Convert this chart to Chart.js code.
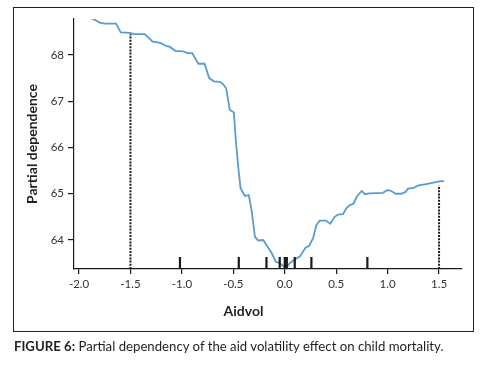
<!DOCTYPE html>
<html>
<head>
<meta charset="utf-8">
<script src="https://cdn.jsdelivr.net/npm/chart.js@4.4.1/dist/chart.umd.min.js"></script>
<style>
  body { margin: 0; background: #fff; }
  #wrap { position: relative; width: 480px; height: 366px; }
  #box { position: absolute; left: 13px; top: 7px; width: 459px; height: 323px; border: 1px solid #222; }
  #chart { position: absolute; left: 0; top: 0; }
  #xtitle { position: absolute; left: 13px; width: 461px; top: 302px; text-align: center;
            font: bold 14px Lato, sans-serif; color: #231f20; }
  #caption { position: absolute; left: 14px; top: 338px; font: 13.2px Lato, sans-serif; color: #231f20; }
</style>
</head>
<body>
<div id="wrap">
  <div id="box"></div>
  <canvas id="chart" width="480" height="366"></canvas>
  <div id="xtitle">Aidvol</div>
  <div id="caption"><b>FIGURE 6:</b> Partial dependency of the aid volatility effect on child mortality.</div>
</div>
<script>
// Partial dependence curve (Aidvol -> partial dependence)
const aidvol = [-1.877, -1.845, -1.80, -1.75, -1.64, -1.595, -1.50, -1.47, -1.36, -1.285, -1.21, -1.15, -1.12,
  -1.065, -0.99, -0.945, -0.90, -0.84, -0.78, -0.735, -0.69, -0.63, -0.60, -0.57, -0.534, -0.495, -0.476,
  -0.453, -0.43, -0.388, -0.35, -0.323, -0.29, -0.259, -0.21, -0.178, -0.13, -0.087, -0.049, -0.016, 0.01,
  0.049, 0.097, 0.146, 0.204, 0.236, 0.275, 0.307, 0.34, 0.40, 0.443, 0.485, 0.518, 0.566, 0.60, 0.63,
  0.67, 0.70, 0.748, 0.78, 0.825, 0.954, 1.00, 1.036, 1.078, 1.13, 1.175, 1.197, 1.246, 1.30, 1.376, 1.49, 1.547];
const dependence = [68.79, 68.76, 68.70, 68.68, 68.68, 68.49, 68.48, 68.45, 68.45, 68.29, 68.26, 68.19, 68.18,
  68.09, 68.08, 68.04, 68.04, 67.81, 67.81, 67.50, 67.43, 67.42, 67.37, 67.28, 66.81, 66.76, 66.16,
  65.59, 65.12, 64.95, 64.97, 64.65, 64.07, 63.99, 64.00, 63.89, 63.73, 63.53, 63.50, 63.44, 63.39,
  63.50, 63.58, 63.64, 63.84, 63.87, 64.04, 64.32, 64.42, 64.42, 64.35, 64.50, 64.55, 64.56, 64.69, 64.75,
  64.79, 64.94, 65.06, 64.99, 65.01, 65.02, 65.08, 65.06, 65.00, 65.00, 65.04, 65.11, 65.12, 65.18, 65.21, 65.26, 65.28];

// Rug marks (deciles of Aidvol)
const rugX = [-1.019, -0.447, -0.178, -0.049, 0.0, 0.02, 0.097, 0.259, 0.803];
// Dotted reference lines at the 5th / 95th percentiles
const refX = [-1.5, 1.5];
const refTop = [68.45, 65.18];

const xTicks = [-2.0, -1.5, -1.0, -0.5, 0.0, 0.5, 1.0, 1.5];
const yTicks = [64, 65, 66, 67, 68];

const xMin = -2.049, xMax = 1.723;
const yMin = 63.373, yMax = 68.778;
const rugLen = 0.26;

const curve = aidvol.map((x, i) => ({ x: x, y: dependence[i] }));

const rugPts = [];
rugX.forEach(x => {
    rugPts.push({ x: x, y: yMin }, { x: x, y: yMin + rugLen }, { x: x, y: null });
});

const refPts = [];
refX.forEach((x, i) => {
    refPts.push({ x: x, y: yMin }, { x: x, y: refTop[i] }, { x: x, y: null });
});

const tickFont = { family: 'Lato, sans-serif', size: 11.5 };

new Chart(document.getElementById('chart'), {
    type: 'line',
    data: {
        datasets: [
            {
                data: refPts,
                borderColor: '#1a1a1a',
                borderWidth: 2,
                borderDash: [2, 1.2],
                pointRadius: 0,
                spanGaps: false
            },
            {
                data: rugPts,
                borderColor: '#1a1a1a',
                borderWidth: 2.2,
                pointRadius: 0,
                spanGaps: false
            },
            {
                data: curve,
                borderColor: '#5a9bd0',
                borderWidth: 1.8,
                pointRadius: 0,
                tension: 0
            }
        ]
    },
    options: {
        responsive: false,
        animation: false,
        layout: { padding: { left: 24, top: 19, right: 18, bottom: 40 } },
        plugins: { legend: { display: false }, tooltip: { enabled: false } },
        scales: {
            x: {
                type: 'linear',
                min: xMin,
                max: xMax,
                afterBuildTicks: s => { s.ticks = xTicks.map(v => ({ value: v })); },
                afterFit: s => { s.height = 57; },
                ticks: {
                    color: '#333',
                    font: tickFont,
                    padding: 3,
                    maxRotation: 0,
                    callback: v => v.toFixed(1)
                },
                grid: { drawOnChartArea: false, drawTicks: true, tickLength: 5, color: '#1a1a1a', lineWidth: 1.2 },
                border: { display: true, color: '#1a1a1a', width: 1.2 }
            },
            y: {
                type: 'linear',
                min: yMin,
                max: yMax,
                afterBuildTicks: s => { s.ticks = yTicks.map(v => ({ value: v })); },
                afterFit: s => { s.width = 50; },
                ticks: {
                    color: '#333',
                    font: tickFont,
                    padding: 4
                },
                grid: { drawOnChartArea: false, drawTicks: true, tickLength: 6, color: '#1a1a1a', lineWidth: 1.2 },
                border: { display: true, color: '#1a1a1a', width: 1.2 },
                title: {
                    display: true,
                    text: 'Partial dependence',
                    color: '#231f20',
                    font: { family: 'Lato, sans-serif', size: 14, weight: 'bold' },
                    padding: { top: 0, bottom: 4 }
                }
            }
        }
    }
});
</script>
</body>
</html>
